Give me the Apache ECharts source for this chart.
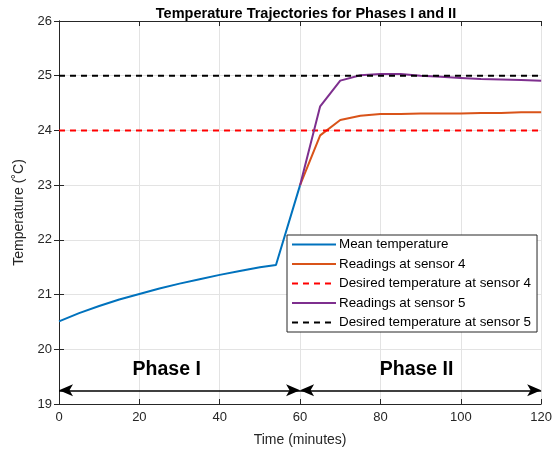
<!DOCTYPE html>
<html>
<head>
<meta charset="utf-8">
<script src="https://cdn.jsdelivr.net/npm/echarts@6/dist/echarts.min.js"></script>
<style>
  html, body { margin: 0; padding: 0; background: #fff; }
  #main { width: 555px; height: 454px; }
</style>
</head>
<body>
<div id="main"></div>
<script>
// values
var meanTime = [0, 5, 10, 15, 20, 25, 30, 35, 40, 45, 50, 54, 60];
var meanTemp = [20.51, 20.66, 20.79, 20.91, 21.01, 21.11, 21.2, 21.28, 21.36, 21.43, 21.5, 21.54, 23.0];

var phase2Time = [60, 65, 70, 75, 80, 85, 90, 95, 100, 105, 110, 115, 120];
var sensor4 = [23.0, 23.91, 24.19, 24.27, 24.3, 24.3, 24.31, 24.31, 24.31, 24.32, 24.32, 24.33, 24.33];
var sensor5 = [23.0, 24.44, 24.91, 25.01, 25.03, 25.03, 25.0, 24.98, 24.96, 24.94, 24.93, 24.92, 24.91];

var desired4 = 24;
var desired5 = 25;

var phaseNames = ['Phase I', 'Phase II'];
var phaseLabelX = [26.8, 89.0];
var phaseLabelY = 19.63;
var arrowY = 19.25;
var phaseBounds = [[0, 60], [60, 120]];

function pairs(xs, ys) {
    var d = [];
    for (var i = 0; i < xs.length; i++) d.push([xs[i], ys[i]]);
    return d;
}

var font = 'Liberation Sans, Arial, sans-serif';
var axisColor = '#262626';

var myChart = echarts.init(document.getElementById('main'));

var option = {
    animation: false,
    backgroundColor: '#fff',
    title: {
        text: 'Temperature Trajectories for Phases I and II',
        left: 301,
        textAlign: 'center',
        top: 1,
        textStyle: { fontFamily: font, fontSize: 14.5, fontWeight: 'bold', color: '#000' }
    },
    legend: {
        orient: 'vertical',
        left: 287,
        top: 235,
        padding: [3, 6, 3, 4],
        itemWidth: 44,
        itemHeight: 12,
        itemGap: 6.5,
        itemStyle: { opacity: 0 },
        backgroundColor: '#fff',
        borderColor: '#262626',
        borderWidth: 1,
        borderRadius: 0,
        textStyle: { fontFamily: font, fontSize: 13.4, color: '#000', padding: [0, 0, 0, -2] },
        data: ['Mean temperature', 'Readings at sensor 4', 'Desired temperature at sensor 4',
               'Readings at sensor 5', 'Desired temperature at sensor 5']
    },
    grid: { left: 59, right: 12, top: 21, bottom: 50 },
    xAxis: [{
        type: 'value',
        min: 0, max: 120, interval: 20,
        name: 'Time (minutes)',
        nameLocation: 'middle',
        nameGap: 29,
        nameTextStyle: { fontFamily: font, fontSize: 14, color: axisColor },
        axisLine: { lineStyle: { color: axisColor } },
        axisTick: { inside: true, length: 5, lineStyle: { color: axisColor } },
        axisLabel: { fontFamily: font, fontSize: 13, color: axisColor, margin: 7 },
        splitLine: { lineStyle: { color: '#e3e3e3' } }
    }, {
        type: 'value', position: 'top',
        min: 0, max: 120, interval: 20,
        axisLine: { show: true, lineStyle: { color: axisColor } },
        axisTick: { inside: true, length: 5, lineStyle: { color: axisColor } },
        axisLabel: { show: false },
        splitLine: { show: false }
    }],
    yAxis: [{
        type: 'value',
        min: 19, max: 26, interval: 1,
        name: 'Temperature (\u02DAC)',
        nameLocation: 'middle',
        nameGap: 33,
        nameTextStyle: { fontFamily: font, fontSize: 14, color: axisColor },
        axisLine: { show: true, lineStyle: { color: axisColor } },
        axisTick: { show: true, inside: true, length: 5, lineStyle: { color: axisColor } },
        axisLabel: { fontFamily: font, fontSize: 13, color: axisColor, margin: 7 },
        splitLine: { lineStyle: { color: '#e3e3e3' } }
    }, {
        type: 'value', position: 'right',
        min: 19, max: 26, interval: 1,
        axisLine: { show: true, lineStyle: { color: axisColor } },
        axisTick: { show: true, inside: true, length: 5, lineStyle: { color: axisColor } },
        axisLabel: { show: false },
        splitLine: { show: false }
    }],
    series: [
        {
            name: 'Phase arrows',
            type: 'line',
            data: [],
            silent: true,
            markLine: {
                silent: true,
                symbol: ['arrow', 'arrow'],
                symbolSize: [9, 14],
                label: { show: false },
                lineStyle: { color: '#000', width: 1.5, type: 'solid' },
                data: phaseBounds.map(function (b) {
                    return [{ coord: [b[0], arrowY] }, { coord: [b[1], arrowY] }];
                })
            }
        },
        {
            name: 'Mean temperature',
            type: 'line',
            data: pairs(meanTime, meanTemp),
            symbol: 'none',
            color: '#0072BD',
            lineStyle: { width: 2, color: '#0072BD' }
        },
        {
            name: 'Readings at sensor 4',
            type: 'line',
            data: pairs(phase2Time, sensor4),
            symbol: 'none',
            color: '#D95319',
            lineStyle: { width: 2, color: '#D95319' }
        },
        {
            name: 'Desired temperature at sensor 4',
            type: 'line',
            data: [[0, desired4], [120, desired4]],
            symbol: 'none',
            color: '#FF0000',
            lineStyle: { width: 2, color: '#FF0000', type: [6, 5] }
        },
        {
            name: 'Readings at sensor 5',
            type: 'line',
            data: pairs(phase2Time, sensor5),
            symbol: 'none',
            color: '#7E2F8E',
            lineStyle: { width: 2, color: '#7E2F8E' }
        },
        {
            name: 'Desired temperature at sensor 5',
            type: 'line',
            data: [[0, desired5], [120, desired5]],
            symbol: 'none',
            color: '#000',
            lineStyle: { width: 2, color: '#000', type: [6, 5] }
        },
        {
            name: 'Phase labels',
            type: 'scatter',
            symbolSize: 0,
            silent: true,
            itemStyle: { opacity: 1 },
            data: phaseNames.map(function (n, i) { return [phaseLabelX[i], phaseLabelY, n]; }),
            label: {
                show: true,
                position: 'inside',
                formatter: function (p) { return p.data[2]; },
                fontFamily: font,
                fontSize: 19.5,
                fontWeight: 'bold',
                color: '#000',
                opacity: 1
            }
        }
    ]
};

myChart.setOption(option);
</script>
</body>
</html>
